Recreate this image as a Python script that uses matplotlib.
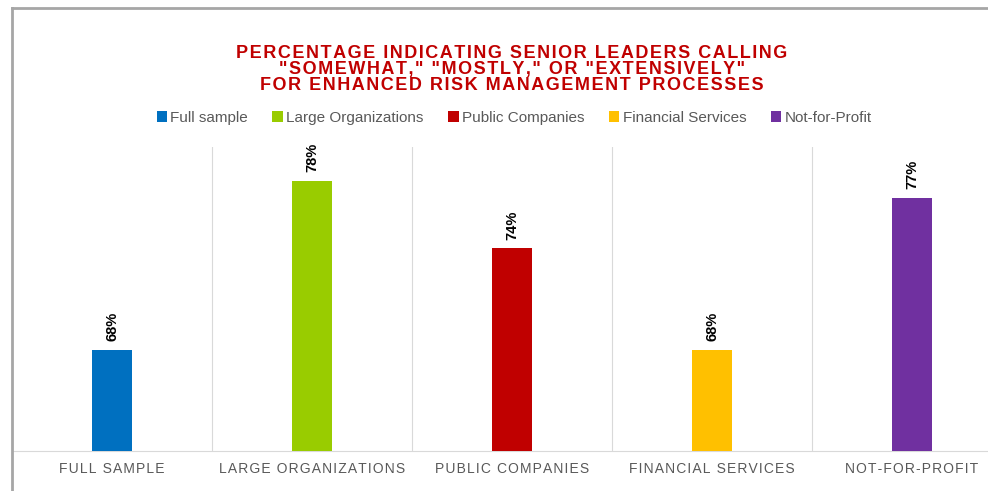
import matplotlib.pyplot as plt
from matplotlib.patches import Patch
from matplotlib.lines import Line2D

# Dados
categorias = ['Full sample', 'Large Organizations', 'Public Companies', 'Financial Services', 'Not-for-Profit']
valores = [68, 78, 74, 68, 77]
cores = ['#0070C0', '#99CC00', '#C00000', '#FFC000', '#7030A0']
titulo = ['PERCENTAGE INDICATING SENIOR LEADERS CALLING',
          '"SOMEWHAT," "MOSTLY," OR "EXTENSIVELY"',
          'FOR ENHANCED RISK MANAGEMENT PROCESSES']

plt.rcParams['font.family'] = ['Liberation Sans', 'DejaVu Sans']

W, H = 988, 491


def espacar(txt, sep='\u200a'):
    return sep.join(txt)


fig = plt.figure(figsize=(W / 100, H / 100), dpi=100)
ax = fig.add_axes([12 / W, (H - 451) / H, 1000 / W, (451 - 147) / H])

x = list(range(len(categorias)))
ax.bar(x, [v - 62 for v in valores], bottom=62, width=0.2, color=cores, zorder=3)
ax.set_xlim(-0.5, len(categorias) - 0.5)
ax.set_ylim(62, 80)

# divisórias entre categorias
for b in range(1, len(categorias)):
    ax.axvline(b - 0.5, color='#D9D9D9', lw=0.8, zorder=1)

for s in ['top', 'right', 'left']:
    ax.spines[s].set_visible(False)
ax.spines['bottom'].set_color('#D9D9D9')
ax.spines['bottom'].set_linewidth(0.8)
ax.set_yticks([])
ax.set_xticks(x)
ax.set_xticklabels([espacar(c.upper()) for c in categorias], fontsize=10, color='#595959')
ax.tick_params(axis='x', length=0, pad=8)

# rótulos dos valores
for i, v in enumerate(valores):
    ax.annotate(f'{v}%', (i, v), xytext=(0, 6), textcoords='offset points',
                rotation=90, ha='center', va='bottom', fontsize=10.5,
                fontweight='bold', color='black')

# título
for k, linha in enumerate(titulo):
    fig.text(512 / W, 1 - (58 + 16 * k) / H, espacar(linha), ha='center', va='baseline',
             fontsize=13, fontweight='bold', color='#C00000')

# legenda
handles = [Patch(facecolor=c, edgecolor='none') for c in cores]
fig.legend(handles, categorias, loc='center', bbox_to_anchor=(514 / W, 1 - 118 / H),
           ncol=5, frameon=False, fontsize=11, handlelength=0.7, handleheight=0.7,
           handletextpad=0.2, columnspacing=1.6, labelcolor='#595959')

# moldura
fig.add_artist(Line2D([12 / W, 12 / W], [0, 1 - 8 / H], color='#A6A6A6', lw=2))
fig.add_artist(Line2D([12 / W, 1], [1 - 8 / H, 1 - 8 / H], color='#A6A6A6', lw=2))

plt.savefig('out.png', dpi=100)
